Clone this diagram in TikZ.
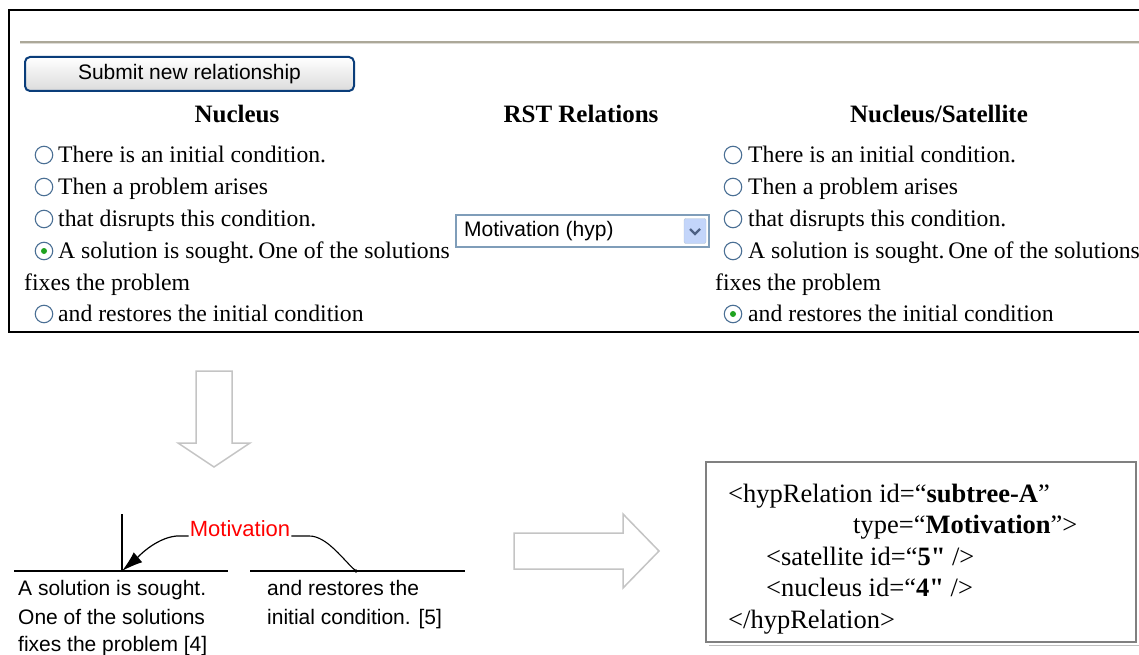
\documentclass[tikz,border=0pt]{standalone}
\usepackage{fontspec}
\setmainfont[Ligatures=TeXOff]{Liberation Serif}
\newfontfamily\uisans{Liberation Sans}
\usetikzlibrary{arrows.meta}
\definecolor{radiob}{HTML}{4A6F94}
\definecolor{radiog}{HTML}{1FA31F}
\definecolor{btnblue}{HTML}{0A3D7A}
\definecolor{rulec}{HTML}{ACA899}
\definecolor{ddborder}{HTML}{7F9DB9}
\definecolor{ddbtn}{HTML}{C3D5FA}
\definecolor{ddchev}{HTML}{4D6185}
\definecolor{arrowgray}{HTML}{C4C4C4}
\definecolor{boxgray}{HTML}{808080}
\begin{document}
\begin{tikzpicture}[x=1pt,y=-1pt,
  lbl/.style={anchor=base west, inner sep=0pt, font=\fontsize{23.7}{28}\selectfont},
  hdr/.style={anchor=base, inner sep=0pt, font=\fontsize{25}{30}\selectfont\bfseries},
  radio/.style={circle, draw=radiob, line width=1.1pt, fill=white, minimum size=17.5pt, inner sep=0pt},
  radiodot/.style={circle, fill=radiog, minimum size=6pt, inner sep=0pt},
  xmlline/.style={anchor=base west, inner sep=0pt, font=\fontsize{26.5}{31}\selectfont},
  treetxt/.style={anchor=base west, inner sep=0pt, font=\uisans\fontsize{21}{30}\selectfont},
  blockarrow/.style={draw=arrowgray, line width=1.5pt, line join=miter, fill=white},
  treeline/.style={line width=1.3pt, black}
]
\useasboundingbox (0,0) rectangle (1139,655);

% ---------- top panel ----------
\draw[line width=2pt] (1140,10) -- (9,10) -- (9,332) -- (1140,332);
\draw[rulec, line width=1.6pt] (20,42) -- (1139,42);
\draw[rulec!40, line width=1pt] (20,44) -- (1139,44);

\node[draw=btnblue, line width=2pt, rounded corners=5pt, top color=white, bottom color=black!14,
      minimum width=329pt, minimum height=34pt, inner sep=0pt,
      font=\uisans\fontsize{21}{24}\selectfont] (btn) at (189.5,74) {Submit new relationship};

\node[hdr] (hnuc) at (237,123) {Nucleus};
\node[hdr] (hrst) at (581,123) {RST Relations};
\node[hdr] (hsat) at (939,123) {Nucleus/Satellite};

% left list
\node[radio] (lr1) at (44,155) {};
\node[radio] (lr2) at (44,187) {};
\node[radio] (lr3) at (44,219) {};
\node[radio] (lr4) at (44,251) {};
\node[radio] (lr5) at (44,314) {};
\node[radiodot] (lr4d) at (lr4) {};
\node[lbl] (lt1) at (58,162.5) {There is an initial condition.};
\node[lbl] (lt2) at (58,194.5) {Then a problem arises};
\node[lbl] (lt3) at (58,226.5) {that disrupts this condition.};
\node[lbl] (lt4) at (58,258.5) {A solution is sought.\,One of the solutions};
\node[lbl] (lt4b) at (24,290.5) {fixes the problem};
\node[lbl] (lt5) at (58,321.5) {and restores the initial condition};

% right list
\node[radio] (rr1) at (733,155) {};
\node[radio] (rr2) at (733,187) {};
\node[radio] (rr3) at (733,219) {};
\node[radio] (rr4) at (733,251) {};
\node[radio] (rr5) at (733,314) {};
\node[radiodot] (rr5d) at (rr5) {};
\node[lbl] (rt1) at (748,162.5) {There is an initial condition.};
\node[lbl] (rt2) at (748,194.5) {Then a problem arises};
\node[lbl] (rt3) at (748,226.5) {that disrupts this condition.};
\node[lbl] (rt4) at (748,258.5) {A solution is sought.\,One of the solutions};
\node[lbl] (rt4b) at (715,290.5) {fixes the problem};
\node[lbl] (rt5) at (748,321.5) {and restores the initial condition};

% dropdown
\node[draw=ddborder, line width=1.2pt, fill=white, minimum width=253pt, minimum height=32pt, inner sep=0pt] (dd) at (582.5,231) {};
\node[anchor=west, inner sep=0pt, font=\uisans\fontsize{21}{24}\selectfont] (ddtxt) at (464,231) {Motivation (hyp)};
\node[draw=ddborder!60, fill=ddbtn, rounded corners=2pt, minimum width=22pt, minimum height=25pt, inner sep=0pt] (ddb) at (695,231) {};
\draw[ddchev, line width=2.2pt] ([shift={(-5,-2)}]ddb.center) -- ([shift={(0,3)}]ddb.center) -- ([shift={(5,-2)}]ddb.center);

% ---------- block arrows ----------
\draw[blockarrow] (196,371) -- (232,371) -- (232,443) -- (250,443) -- (214,467) -- (178,443) -- (196,443) -- cycle;
\draw[blockarrow] (514,533) -- (623,533) -- (623,514) -- (659,551) -- (623,588) -- (623,569) -- (514,569) -- cycle;

% ---------- tree ----------
\coordinate (vtop) at (122,514);
\coordinate (junc) at (122,571);
\coordinate (lla) at (14,571);
\coordinate (llb) at (228,571);
\coordinate (rla) at (250,571);
\coordinate (rlb) at (465,571);
\coordinate (rjunc) at (356,571);
\draw[treeline] (vtop) -- (junc);
\draw[treeline] (lla) -- (llb);
\draw[treeline] (rla) -- (rlb);
\node[anchor=base, inner sep=0pt, text=red, font=\uisans\fontsize{22}{26}\selectfont] (mot) at (240,536) {Motivation};
\draw[line width=1.1pt] ([xshift=1pt]mot.base east) -- ++(18,0) .. controls +(18,0) and +(-12,-10) .. (rjunc);
\fill (rjunc) circle (1.8pt);
\draw[line width=1.2pt, -{Latex[length=21pt,width=13pt]}] ([xshift=-1pt]mot.base west) -- ++(-12,0) .. controls +(-22,2) and +(14,-12) .. (junc);

\node[treetxt] (tl1) at (18,595) {A solution is sought.};
\node[treetxt] (tl2) at (18,624) {One of the solutions};
\node[treetxt] (tl3) at (18,651) {fixes the problem [4]};
\node[treetxt] (tr1) at (267,595) {and restores the};
\node[treetxt] (tr2) at (267,624) {initial condition. [5]};

% ---------- XML box ----------
\draw[black!25, line width=1pt] (709,645) -- (1139,645);
\node[draw=boxgray, line width=1.6pt, fill=white, minimum width=430pt, minimum height=180pt, inner sep=0pt] (xml) at (921,552) {};
\node[xmlline] (x1) at (728,502) {<hypRelation id=“\textbf{subtree-A}”};
\node[xmlline] (x2) at (853,533) {type=“\textbf{Motivation}”>};
\node[xmlline] (x3) at (766,565) {<satellite id=“\textbf{5"} />};
\node[xmlline] (x4) at (766,596) {<nucleus id=“\textbf{4"} />};
\node[xmlline] (x5) at (728,628) {</hypRelation>};
\end{tikzpicture}
\end{document}
